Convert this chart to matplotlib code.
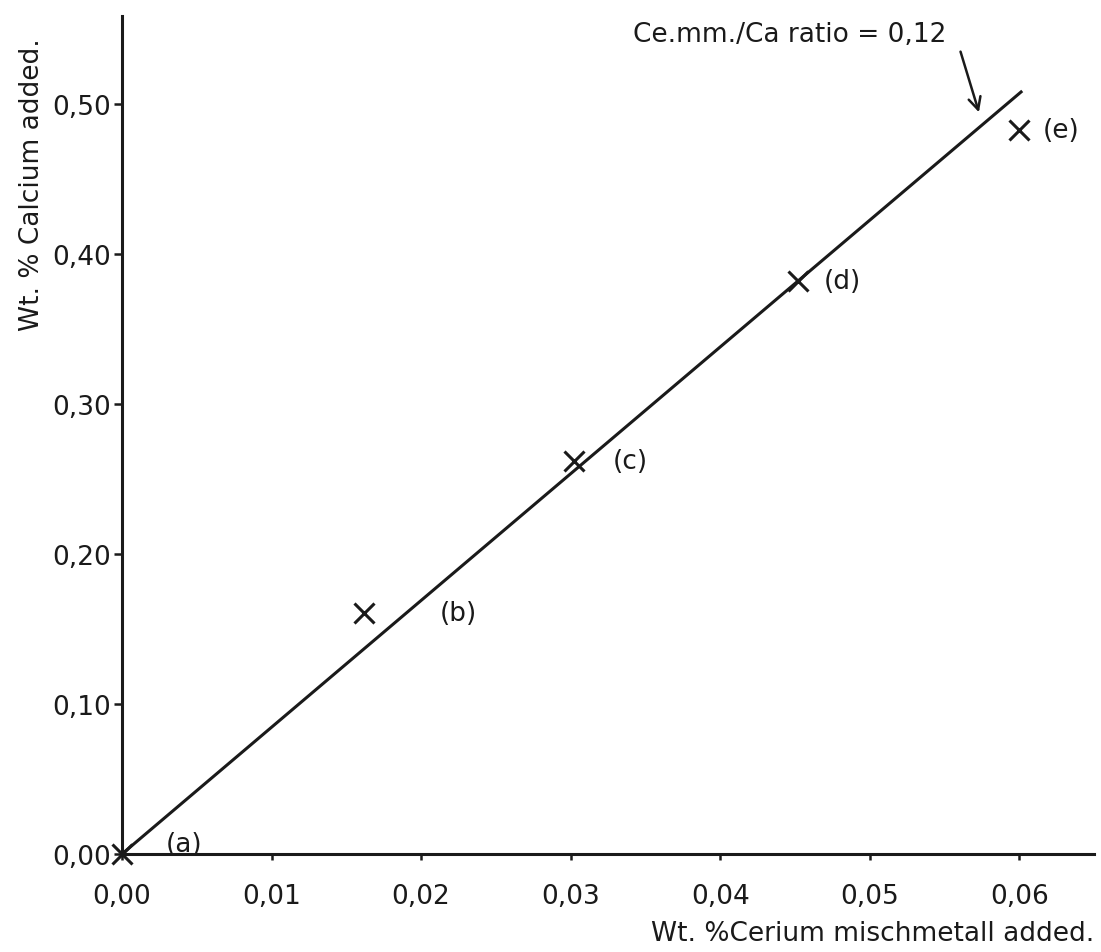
import matplotlib
matplotlib.use("Agg")
import matplotlib.pyplot as plt

# measured points (x = wt.% Ce mischmetall, y = wt.% Ca)
ce_added = [0.0, 0.0162, 0.0302, 0.0452, 0.0600]
ca_added = [0.0, 0.161, 0.262, 0.382, 0.483]
point_labels = ['(a)', '(b)', '(c)', '(d)', '(e)']

# drawn line, Ce.mm./Ca ratio = 0,12
line_x = [0.0, 0.0602]
line_y = [0.0, 0.509]

x_ticks = [0.00, 0.01, 0.02, 0.03, 0.04, 0.05, 0.06]
x_ticklabels = ['0,00', '0,01', '0,02', '0,03', '0,04', '0,05', '0,06']
y_ticks = [0.00, 0.10, 0.20, 0.30, 0.40, 0.50]
y_ticklabels = ['0,00', '0,10', '0,20', '0,30', '0,40', '0,50']

ink = '#1a1a1a'
plt.rcParams['font.family'] = ['DejaVu Sans']
plt.rcParams['font.size'] = 19

fig = plt.figure(figsize=(11.01, 9.53), dpi=100)
ax = fig.add_axes([122/1101, 98/953, 972/1101, 838/953])

ax.plot(line_x, line_y, color=ink, lw=2.2, solid_capstyle='butt')
ax.plot(ce_added, ca_added, 'x', color=ink, ms=14, mew=2.2, clip_on=False)

# label offsets in points
offsets = [(45, 7), (68, 0), (41, 0), (32, 0), (30, 0)]
for x, y, lab, off in zip(ce_added, ca_added, point_labels, offsets):
    ax.annotate(lab, (x, y), xytext=off, textcoords='offset points',
                ha='center', va='center', color=ink, fontsize=19)

ax.text(0.04465, 0.547, 'Ce.mm./Ca ratio = 0,12', ha='center', va='center',
        color=ink, fontsize=19)
ax.annotate('', xy=(0.05736, 0.493), xytext=(0.05602, 0.537),
            arrowprops=dict(arrowstyle='->', color=ink, lw=1.8,
                            mutation_scale=22))

ax.set_xlim(0, 0.065)
ax.set_ylim(0, 0.559)
ax.set_xticks(x_ticks)
ax.set_xticklabels(x_ticklabels)
ax.set_yticks(y_ticks)
ax.set_yticklabels(y_ticklabels)

for s in ['top', 'right']:
    ax.spines[s].set_visible(False)
for s in ['left', 'bottom']:
    ax.spines[s].set_linewidth(2.2)
    ax.spines[s].set_color(ink)

ax.tick_params(axis='x', direction='out', length=4, width=1.8, pad=17,
               colors=ink, labelsize=19)
ax.tick_params(axis='y', direction='out', length=6, width=1.8, pad=2,
               colors=ink, labelsize=19)

ax.set_xlabel('Wt. %Cerium mischmetall added.', fontsize=19, color=ink,
              ha='right', va='center')
ax.xaxis.set_label_coords(1.0, -0.094)
ax.set_ylabel('Wt. % Calcium added.', fontsize=19, color=ink,
              ha='center', va='center')
ax.yaxis.set_label_coords(-0.093, 0.80)

fig.savefig('out.png', dpi=100)
